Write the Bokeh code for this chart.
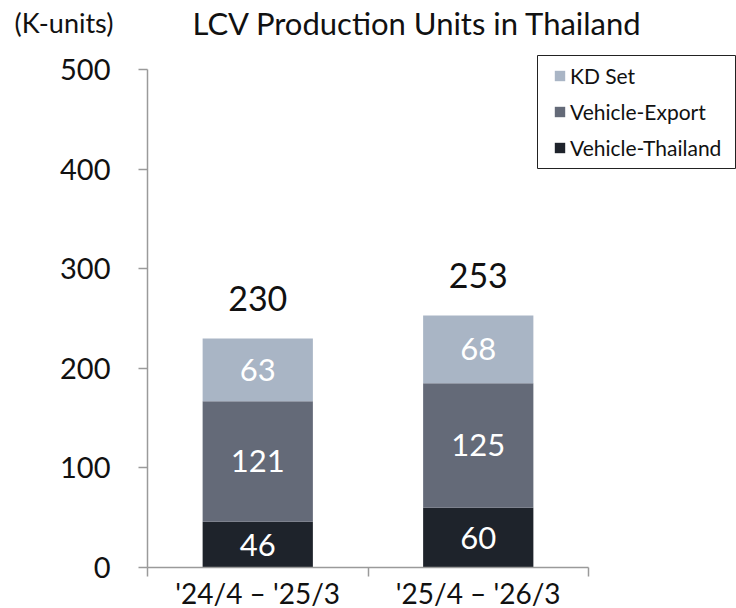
from bokeh.plotting import figure
from bokeh.models import (ColumnDataSource, Range1d, FixedTicker, Legend,
                          LegendItem, Label, BoxAnnotation)
from bokeh.core.properties import value
from bokeh.embed import file_html
from bokeh.resources import INLINE

# ---- data ----
periods = ["'24/4 \u2013 '25/3", "'25/4 \u2013 '26/3"]
vehicle_thailand = [46, 60]
vehicle_export = [121, 125]
kd_set = [63, 68]
totals = [230, 253]
series = ["Vehicle-Thailand", "Vehicle-Export", "KD Set"]
colors = ["#1e232b", "#646a78", "#a9b5c5"]
y_ticks = [0, 100, 200, 300, 400, 500]
y_max = 500

FONT = "Lato"
W, H = 736, 608
# pixel placement of the axes (layout only)
AX_LEFT, AX_RIGHT = 147, 588     # x of data 0 and data n
AX_BOTTOM, AX_TOP = 567, 69      # y of data 0 and data y_max

n = len(periods)
xs = [i + 0.5 for i in range(n)]
data = {"x": xs,
        "Vehicle-Thailand": vehicle_thailand,
        "Vehicle-Export": vehicle_export,
        "KD Set": kd_set,
        "total": totals}
mid_t, mid_e, mid_k = [], [], []
for a, b, c in zip(vehicle_thailand, vehicle_export, kd_set):
    mid_t.append(a / 2)
    mid_e.append(a + b / 2)
    mid_k.append(a + b + c / 2)
data["mid_t"] = mid_t
data["mid_e"] = mid_e
data["mid_k"] = mid_k
data["lab_t"] = [str(v) for v in vehicle_thailand]
data["lab_e"] = [str(v) for v in vehicle_export]
data["lab_k"] = [str(v) for v in kd_set]
data["lab_tot"] = [str(v) for v in totals]
src = ColumnDataSource(data)

# ranges so the frame covers the whole canvas while data keeps its place
sx = (AX_RIGHT - AX_LEFT) / n
sy = (AX_BOTTOM - AX_TOP) / y_max
x_range = Range1d(-AX_LEFT / sx, n + (W - AX_RIGHT) / sx)
y_range = Range1d(-(H - AX_BOTTOM) / sy, y_max + AX_TOP / sy)

def px_x(px):
    return (px - AX_LEFT) / sx

def px_y(py):
    return (AX_BOTTOM - py) / sy

p = figure(width=W, height=H, x_range=x_range, y_range=y_range,
           output_backend="svg", toolbar_location=None, min_border=0)
p.outline_line_color = None
p.xgrid.visible = False
p.ygrid.visible = False
p.background_fill_color = "white"
p.border_fill_color = "white"

renderers = p.vbar_stack(series, x="x", width=0.5, source=src,
                         color=colors, line_color=None)

for col, lab in (("mid_t", "lab_t"), ("mid_e", "lab_e"), ("mid_k", "lab_k")):
    p.text(x="x", y=col, text=lab, source=src, text_color="white",
           text_font=value(FONT), text_font_size="31px",
           text_align="center", text_baseline="middle")
p.text(x="x", y="total", text="lab_tot", source=src, text_color="#111111",
       text_font=value(FONT), text_font_size="34px",
       text_align="center", text_baseline="middle", y_offset=-40)

axis_color = "#9a9a9a"
yax = p.yaxis[0]
yax.fixed_location = 0
yax.bounds = (0, y_max)
yax.ticker = FixedTicker(ticks=y_ticks)
yax.axis_line_color = axis_color
yax.axis_line_width = 1.5
yax.major_tick_line_color = axis_color
yax.major_tick_line_width = 1.5
yax.major_tick_out = 9
yax.major_tick_in = 0
yax.minor_tick_line_color = None
yax.major_label_standoff = 28
yax.major_label_text_font = FONT
yax.major_label_text_font_size = "29px"
yax.major_label_text_color = "#111111"

xax = p.xaxis[0]
xax.fixed_location = 0
xax.bounds = (0, n)
xax.ticker = FixedTicker(ticks=xs, minor_ticks=list(range(n + 1)))
xax.major_label_overrides = {x: lab for x, lab in zip(xs, periods)}
xax.axis_line_color = axis_color
xax.axis_line_width = 1.5
xax.major_tick_line_color = None
xax.major_tick_out = 0
xax.major_tick_in = 0
xax.minor_tick_line_color = axis_color
xax.minor_tick_line_width = 1.5
xax.minor_tick_out = 9
xax.minor_tick_in = 0
xax.major_label_standoff = -1
xax.major_label_text_font = FONT
xax.major_label_text_font_size = "28px"
xax.major_label_text_color = "#111111"

# legend frame
p.add_layout(BoxAnnotation(left=px_x(537), right=px_x(735),
                           top=px_y(55), bottom=px_y(168),
                           fill_color="white", fill_alpha=1.0,
                           line_color="#222222", line_width=1,
                           line_alpha=1.0))

items = [LegendItem(label=name, renderers=[r])
         for name, r in zip(series, renderers)][::-1]
legend = Legend(items=items, location=(553, H - 160),
                label_text_font=FONT, label_text_font_size="21px",
                label_text_color="#111111",
                glyph_width=13, glyph_height=13, label_height=26,
                label_standoff=4, spacing=10, padding=0, margin=0,
                border_line_color=None, background_fill_alpha=0.0)
p.add_layout(legend, "center")

p.add_layout(Label(x=192, y=H - 22, x_units="screen", y_units="screen",
                   text="LCV Production Units in Thailand",
                   text_font=FONT, text_font_size="31px",
                   text_color="#111111", text_baseline="middle"))
p.add_layout(Label(x=14, y=H - 22, x_units="screen", y_units="screen",
                   text="(K-units)", text_font=FONT, text_font_size="27px",
                   text_color="#111111", text_baseline="middle"))

open("out.html", "w").write(file_html(p, INLINE))
